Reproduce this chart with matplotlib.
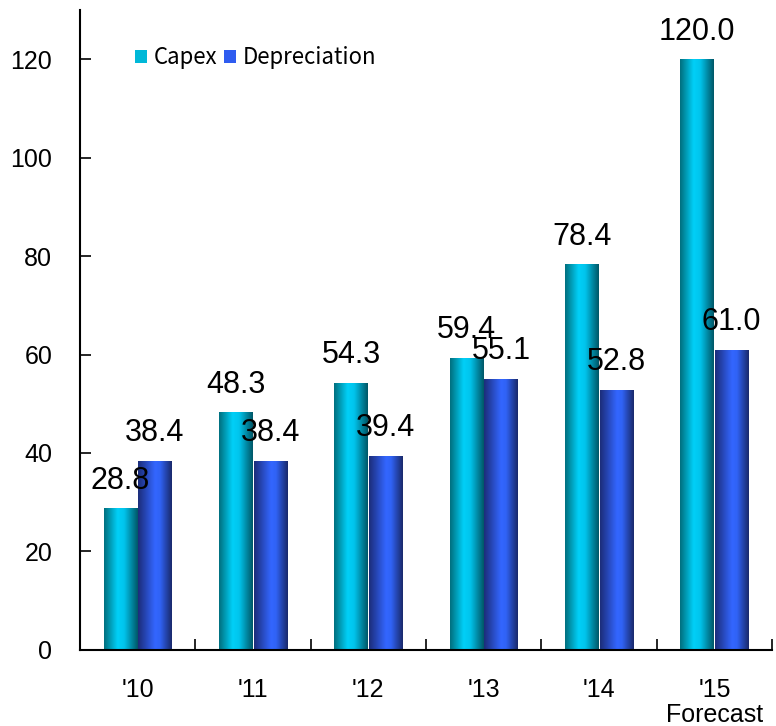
import numpy as np
import matplotlib
matplotlib.use("Agg")
import matplotlib.pyplot as plt
from matplotlib.colors import LinearSegmentedColormap
from matplotlib.patches import Patch

years = ["'10", "'11", "'12", "'13", "'14", "'15\nForecast"]
capex = [28.8, 48.3, 54.3, 59.4, 78.4, 120.0]
depreciation = [38.4, 38.4, 39.4, 55.1, 52.8, 61.0]
yticks = [0, 20, 40, 60, 80, 100, 120]

plt.rcParams["font.family"] = ["Liberation Sans", "DejaVu Sans"]

cm_capex = LinearSegmentedColormap.from_list(
    "capex", [(0, "#00707f"), (0.4, "#00d0f8"), (0.6, "#00c4ec"), (1, "#005868")])
cm_dep = LinearSegmentedColormap.from_list(
    "dep", [(0, "#1c2d7a"), (0.5, "#3366ff"), (0.65, "#3063f6"), (1, "#1a2a6c")])


def shade(ax, bars, cmap):
    grad = np.linspace(0, 1, 64).reshape(1, -1)
    for b in bars:
        x0, y0 = b.get_x(), b.get_y()
        w, h = b.get_width(), b.get_height()
        im = ax.imshow(grad, cmap=cmap, aspect="auto", extent=(x0, x0 + w, y0, y0 + h),
                       interpolation="bicubic", zorder=b.get_zorder())
        im.set_clip_path(b)


fig = plt.figure(figsize=(7.76, 7.26), dpi=100)
ax = fig.add_axes([0.103, 0.105, 0.892, 0.881])

x = np.arange(len(years))
w = 0.29
b1 = ax.bar(x - 0.15, capex, w, color="none", edgecolor="none", zorder=2)
b2 = ax.bar(x + 0.15, depreciation, w, color="none", edgecolor="none", zorder=2)
shade(ax, b1, cm_capex)
shade(ax, b2, cm_dep)

for bars, vals in ((b1, capex), (b2, depreciation)):
    for b, v in zip(bars, vals):
        ax.annotate(f"{v:.1f}", (b.get_x() + b.get_width() / 2, v), xytext=(0, 9),
                    textcoords="offset points", ha="center", va="bottom", fontsize=22, zorder=5)

ax.set_xlim(-0.5, len(years) - 0.5)
ax.set_ylim(0, 130)
ax.set_yticks(yticks)
ax.tick_params(axis="y", direction="in", length=8, width=1.2, labelsize=18, pad=20)
ax.set_xticks(np.arange(len(years) + 1) - 0.5)
ax.set_xticklabels([])
ax.set_xticks(x, minor=True)
ax.set_xticklabels(years, minor=True, fontsize=18)
ax.tick_params(axis="x", which="major", direction="in", length=8, width=1.2)
ax.tick_params(axis="x", which="minor", length=0, pad=20)
for t in ax.get_xticklabels(minor=True):
    t.set_linespacing(1.1)
for s in ("top", "right"):
    ax.spines[s].set_visible(False)
for s in ("left", "bottom"):
    ax.spines[s].set_linewidth(1.5)

handles = [Patch(facecolor="#00b8d8", label="Capex"), Patch(facecolor="#2f5cf0", label="Depreciation")]
ax.legend(handles=handles, loc="upper left", bbox_to_anchor=(0.05, 0.975), ncol=2, frameon=False,
          handlelength=0.55, handleheight=0.55, handletextpad=0.3, columnspacing=0.3,
          prop={"family": ["Noto Sans CJK JP", "DejaVu Sans"], "size": 16})

fig.savefig("out.png", dpi=100)
